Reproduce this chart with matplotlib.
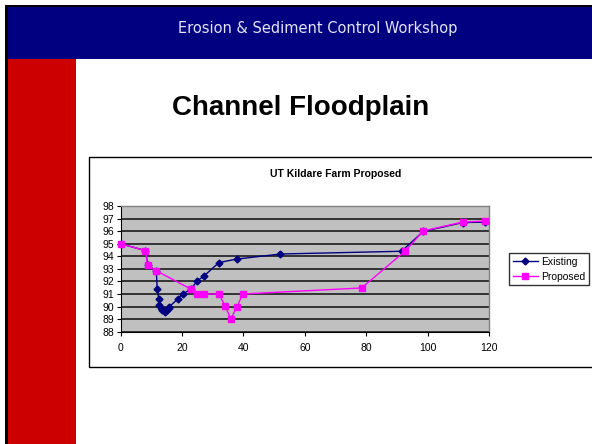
import matplotlib
matplotlib.use("Agg")
import matplotlib.pyplot as plt
from matplotlib.patches import Rectangle

# Data
existing_x = [0, 8, 8.9, 11.6, 11.9, 12.4, 12.6, 13.1, 13.6, 14.3, 15.1, 15.7, 15.9,
              18.7, 20.2, 22.8, 25, 27, 32, 37.9, 52, 91.5, 98.6, 111.4, 118.8]
existing_y = [95.0, 94.45, 93.3, 92.83, 91.37, 90.63, 90.1, 89.9, 89.75, 89.6, 89.75, 89.9, 90.0,
              90.63, 91.0, 91.37, 92.06, 92.4, 93.5, 93.78, 94.18, 94.4, 95.98, 96.68, 96.72]
proposed_x = [0, 8, 8.8, 11.6, 22.8, 25, 27, 32, 34, 35.9, 37.9, 39.8, 78.5, 92.7, 98.6, 111.4, 118.8]
proposed_y = [95.0, 94.45, 93.3, 92.85, 91.4, 91.0, 91.0, 91.0, 90.04, 89.03, 90.0, 91.0, 91.48, 94.42, 96.02, 96.72, 96.8]
x_ticks = [0, 20, 40, 60, 80, 100, 120]
y_ticks = list(range(88, 99))
series_names = ["Existing", "Proposed"]

W, H = 592, 444
fig = plt.figure(figsize=(W / 100, H / 100), dpi=100)
fig.patch.set_facecolor("white")

def fx(px):
    return px / W

def fy(py):
    return 1 - py / H

def rect(x0, y0, x1, y1, **kw):
    # pixel coords (top-left origin)
    r = Rectangle((fx(x0), fy(y1)), (x1 - x0) / W, (y1 - y0) / H,
                  transform=fig.transFigure, zorder=-5, **kw)
    fig.add_artist(r)
    return r

# slide decorations
rect(5, 5, 8, 444, facecolor="black", edgecolor="none")
rect(5, 5, 600, 7, facecolor="black", edgecolor="none")
rect(8, 7, 600, 59, facecolor="#000080", edgecolor="none")
rect(8, 59, 76, 444, facecolor="#CC0000", edgecolor="none")

fig.text(fx(318), fy(29), "Erosion & Sediment Control Workshop", color="#E4E4F4",
         fontsize=10.5, family="DejaVu Sans", ha="center", va="center")
fig.text(fx(301), fy(108), "Channel Floodplain", color="black", fontsize=20,
         fontweight="bold", family="Liberation Sans", ha="center", va="center")

# chart area box
rect(89, 157, 620, 367, facecolor="white", edgecolor="black", linewidth=1.0)
fig.text(fx(336), fy(174), "UT Kildare Farm Proposed", color="black", fontsize=7.5,
         fontweight="bold", family="Liberation Sans", ha="center", va="center")

left, right, top, bottom = 120.7, 489, 206, 331.7
ax = fig.add_axes([fx(left), fy(bottom), (right - left) / W, (bottom - top) / H])
ax.set_facecolor("#C0C0C0")
ax.set_xlim(0, 120)
ax.set_ylim(88, 98)
ax.set_xticks(x_ticks)
ax.set_yticks(y_ticks)
ax.yaxis.grid(True, color="#333333", linewidth=1.4)
ax.set_axisbelow(True)
for s in ["top", "right"]:
    ax.spines[s].set_color("#808080")
    ax.spines[s].set_linewidth(1.0)
ax.spines["left"].set_color("black")
ax.spines["bottom"].set_color("black")
ax.tick_params(axis="both", direction="out", length=3, width=0.8, labelsize=7.5, pad=2)
ax.tick_params(axis="x", pad=5)
for lab in ax.get_xticklabels() + ax.get_yticklabels():
    lab.set_family("Liberation Sans")

l1, = ax.plot(existing_x, existing_y, color="#000080", linewidth=1.0, marker="D",
              markersize=3.5, markerfacecolor="#000080", markeredgecolor="#000080",
              label=series_names[0], clip_on=False, zorder=3)
l2, = ax.plot(proposed_x, proposed_y, color="#FF00FF", linewidth=1.0, marker="s",
              markersize=4.5, markerfacecolor="#FF00FF", markeredgecolor="#FF00FF",
              label=series_names[1], clip_on=False, zorder=4)

leg = fig.legend(handles=[l1, l2], labels=series_names, loc="upper left",
                 bbox_to_anchor=(fx(509), fy(253)), borderaxespad=0,
                 frameon=True, fancybox=False, edgecolor="black",
                 prop={"family": "Liberation Sans", "size": 7.5},
                 handlelength=2.4, handletextpad=0.3, borderpad=0.35,
                 labelspacing=0.5)
leg.get_frame().set_linewidth(1.0)

fig.savefig("out.png", dpi=100)
